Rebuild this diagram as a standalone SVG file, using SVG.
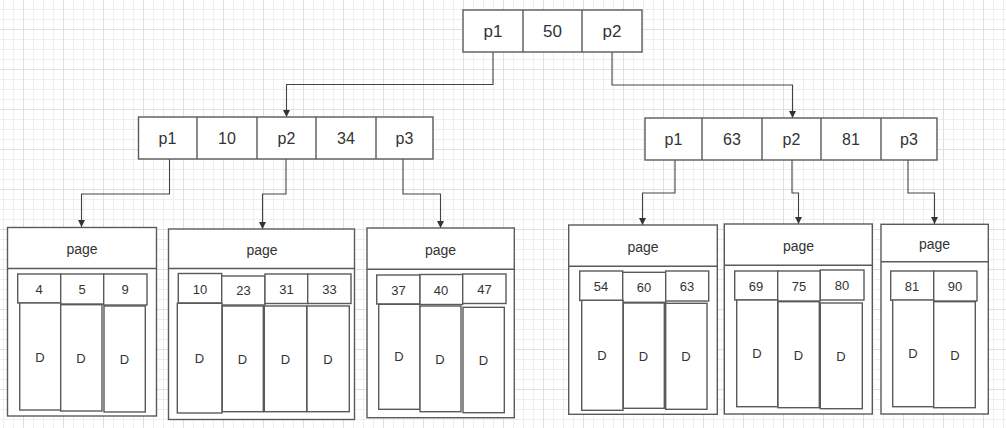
<svg xmlns="http://www.w3.org/2000/svg" width="1006" height="428" viewBox="0 0 1006 428">
<style>
.box{fill:#fff;stroke:#5a5a5a;stroke-width:1.4}
.ln{fill:none;stroke:#5a5a5a;stroke-width:1.4}
.cn{fill:none;stroke:#444;stroke-width:1.1}
.t{font-family:"Liberation Sans",Arial,sans-serif;fill:#333;text-anchor:middle;dominant-baseline:central}
.big{font-size:17px}
.mid{font-size:16px}
.sm{font-size:13px}
.pg{font-size:14px}
</style>
<defs>
<pattern id="minor" patternUnits="userSpaceOnUse" x="3" y="9" width="10" height="10">
<path d="M0.5 0V10M0 0.5H10" stroke="#efefef" stroke-width="1" fill="none"/>
</pattern>
<pattern id="major" patternUnits="userSpaceOnUse" x="23" y="29" width="40" height="40">
<path d="M0.5 0V40M0 0.5H40" stroke="#e0e0e0" stroke-width="1" fill="none"/>
</pattern>
<marker id="arr" viewBox="0 0 10 10" refX="10" refY="5" markerWidth="7" markerHeight="7" markerUnits="userSpaceOnUse" orient="auto">
<path d="M0 0L10 5L0 10Z" fill="#333"/>
</marker>
</defs>
<rect width="1006" height="428" fill="#fff"/>
<rect width="1006" height="428" fill="url(#minor)"/>
<rect width="1006" height="428" fill="url(#major)"/>

<g id="connectors">
<path class="cn" d="M493 52V84.5H286.5V117" marker-end="url(#arr)"/>
<path class="cn" d="M612 52V85H792.5V118" marker-end="url(#arr)"/>
<path class="cn" d="M169.5 159V194H81.5V227" marker-end="url(#arr)"/>
<path class="cn" d="M286 159V194H262.5V229" marker-end="url(#arr)"/>
<path class="cn" d="M403 159V194H440.5V228" marker-end="url(#arr)"/>
<path class="cn" d="M675 160V193H642.5V225" marker-end="url(#arr)"/>
<path class="cn" d="M792 160V193H798.5V224" marker-end="url(#arr)"/>
<path class="cn" d="M908 160V193H934.5V224" marker-end="url(#arr)"/>
</g>

<g id="root">
<rect class="box" x="463" y="10" width="179" height="42"/>
<path class="ln" d="M523 10V52M582 10V52"/>
<text class="t big" x="493" y="31">p1</text>
<text class="t big" x="552.5" y="31">50</text>
<text class="t big" x="612" y="31">p2</text>
</g>

<g id="inner-left">
<rect class="box" x="138.5" y="117" width="294.5" height="42"/>
<path class="ln" d="M197 117V159M257 117V159M316 117V159M376 117V159"/>
<text class="t mid" x="167.5" y="138.5">p1</text>
<text class="t mid" x="227" y="138">10</text>
<text class="t mid" x="286.5" y="138.5">p2</text>
<text class="t mid" x="346" y="138.5">34</text>
<text class="t mid" x="404.5" y="138">p3</text>
</g>

<g id="inner-right">
<rect class="box" x="645" y="118" width="292" height="42"/>
<path class="ln" d="M702 118V160M762 118V160M821 118V160M881 118V160"/>
<text class="t mid" x="673.5" y="139.5">p1</text>
<text class="t mid" x="732" y="139">63</text>
<text class="t mid" x="791.5" y="139.5">p2</text>
<text class="t mid" x="851" y="139.5">81</text>
<text class="t mid" x="909" y="139.5">p3</text>
</g>

<g id="leaf1">
<rect class="box" x="7.5" y="227.5" width="149" height="188.5"/>
<path class="ln" d="M7.5 268.5H156.5"/>
<text class="t pg" x="82" y="249">page</text>
<rect class="box" x="17.7" y="274" width="43" height="29"/>
<rect class="box" x="60.7" y="274" width="43" height="30"/>
<rect class="box" x="103.7" y="274" width="43.3" height="31"/>
<rect class="box" x="19.7" y="303" width="41" height="107"/>
<rect class="box" x="60.7" y="304.7" width="41.3" height="106.3"/>
<rect class="box" x="104" y="306" width="41.3" height="106"/>
<text class="t sm" x="39" y="289">4</text>
<text class="t sm" x="82" y="289">5</text>
<text class="t sm" x="125" y="289">9</text>
<text class="t sm" x="40" y="357">D</text>
<text class="t sm" x="81" y="358">D</text>
<text class="t sm" x="124.5" y="359">D</text>
</g>

<g id="leaf2">
<rect class="box" x="168.5" y="229" width="186" height="190.5"/>
<path class="ln" d="M168.5 268.5H354.5"/>
<text class="t pg" x="262" y="249.5">page</text>
<rect class="box" x="178.3" y="273.5" width="43.4" height="29.5"/>
<rect class="box" x="221.7" y="276" width="43.3" height="29"/>
<rect class="box" x="265" y="274" width="42.7" height="29.5"/>
<rect class="box" x="307.7" y="274" width="43.3" height="29.5"/>
<rect class="box" x="177.3" y="303.3" width="44.7" height="109.7"/>
<rect class="box" x="222.3" y="306" width="41" height="105.7"/>
<rect class="box" x="264.3" y="306" width="42.4" height="105.7"/>
<rect class="box" x="307" y="306" width="42.3" height="105.7"/>
<text class="t sm" x="200" y="289">10</text>
<text class="t sm" x="243.5" y="290.5">23</text>
<text class="t sm" x="286.5" y="289">31</text>
<text class="t sm" x="329.5" y="289">33</text>
<text class="t sm" x="199.5" y="358">D</text>
<text class="t sm" x="242.5" y="359">D</text>
<text class="t sm" x="285.5" y="359">D</text>
<text class="t sm" x="328" y="359">D</text>
</g>

<g id="leaf3">
<rect class="box" x="367" y="228" width="147.3" height="189.7"/>
<path class="ln" d="M367 269.3H514.3"/>
<text class="t pg" x="440.5" y="249.5">page</text>
<rect class="box" x="376.7" y="275" width="43.3" height="29"/>
<rect class="box" x="420" y="274.5" width="42.7" height="30"/>
<rect class="box" x="462.7" y="274" width="43.3" height="29.5"/>
<rect class="box" x="378.7" y="304.3" width="41.3" height="105"/>
<rect class="box" x="420" y="306" width="41" height="105.7"/>
<rect class="box" x="463" y="307.3" width="41.3" height="105.4"/>
<text class="t sm" x="398.5" y="290">37</text>
<text class="t sm" x="441" y="290">40</text>
<text class="t sm" x="484.5" y="289">47</text>
<text class="t sm" x="399" y="356">D</text>
<text class="t sm" x="440" y="359">D</text>
<text class="t sm" x="483.5" y="360">D</text>
</g>

<g id="leaf4">
<rect class="box" x="568.7" y="225" width="148.6" height="189.3"/>
<path class="ln" d="M568.7 266.3H717.3"/>
<text class="t pg" x="643" y="246.5">page</text>
<rect class="box" x="579.7" y="271" width="43" height="29.5"/>
<rect class="box" x="622.7" y="272.3" width="43" height="30"/>
<rect class="box" x="665.7" y="271" width="43" height="30"/>
<rect class="box" x="581.7" y="300.3" width="41.3" height="110"/>
<rect class="box" x="623.3" y="303" width="41" height="105.3"/>
<rect class="box" x="665.7" y="303.3" width="41.3" height="106"/>
<text class="t sm" x="601" y="286">54</text>
<text class="t sm" x="644" y="287.5">60</text>
<text class="t sm" x="687" y="286">63</text>
<text class="t sm" x="602" y="355">D</text>
<text class="t sm" x="643.5" y="356">D</text>
<text class="t sm" x="686" y="356.5">D</text>
</g>

<g id="leaf5">
<rect class="box" x="724.3" y="224" width="148" height="190"/>
<path class="ln" d="M724.3 265.3H872.3"/>
<text class="t pg" x="798.5" y="246">page</text>
<rect class="box" x="734.7" y="271" width="43" height="29"/>
<rect class="box" x="777.7" y="271" width="42.6" height="30"/>
<rect class="box" x="820.3" y="270" width="43.7" height="30"/>
<rect class="box" x="736.7" y="300" width="41" height="106.7"/>
<rect class="box" x="778" y="301.7" width="41.3" height="106"/>
<rect class="box" x="820.3" y="303" width="42" height="105.7"/>
<text class="t sm" x="756" y="286">69</text>
<text class="t sm" x="799" y="286">75</text>
<text class="t sm" x="842" y="285">80</text>
<text class="t sm" x="757" y="353">D</text>
<text class="t sm" x="798.5" y="355">D</text>
<text class="t sm" x="841" y="356">D</text>
</g>

<g id="leaf6">
<rect class="box" x="881" y="224.3" width="107.3" height="189.7"/>
<path class="ln" d="M881 261.7H988.3"/>
<text class="t pg" x="934.5" y="244">page</text>
<rect class="box" x="890.7" y="271" width="43" height="29.3"/>
<rect class="box" x="933.7" y="271" width="43.3" height="30"/>
<rect class="box" x="892.7" y="300" width="41" height="106.7"/>
<rect class="box" x="933.7" y="301.7" width="41.6" height="106"/>
<text class="t sm" x="912" y="286">81</text>
<text class="t sm" x="955" y="286">90</text>
<text class="t sm" x="913" y="353">D</text>
<text class="t sm" x="955" y="355">D</text>
</g>
</svg>
